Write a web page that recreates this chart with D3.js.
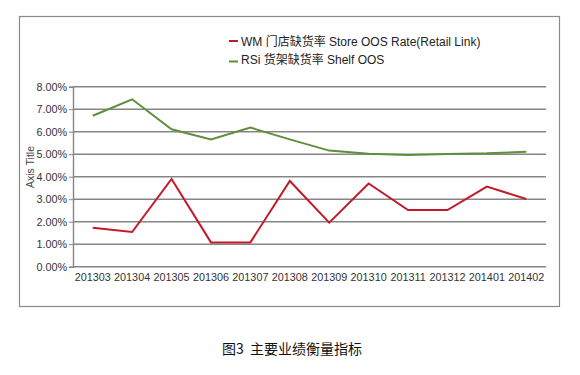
<!DOCTYPE html>
<html>
<head>
<meta charset="utf-8">
<script src="https://cdn.jsdelivr.net/npm/d3@7"></script>
<style>
  html, body { margin: 0; padding: 0; background: #fff; }
  svg { display: block; }
</style>
</head>
<body>
<script>
const categories = ["201303","201304","201305","201306","201307","201308","201309","201310","201311","201312","201401","201402"];
const storeOOS = [1.73, 1.54, 3.90, 1.08, 1.08, 3.81, 1.96, 3.70, 2.52, 2.52, 3.56, 3.01];
const shelfOOS = [6.71, 7.44, 6.11, 5.66, 6.18, 5.66, 5.16, 5.02, 4.96, 5.01, 5.04, 5.11];
const yTicks = [0, 1, 2, 3, 4, 5, 6, 7, 8];
const seriesNames = ["WM 门店缺货率 Store OOS Rate(Retail Link)", "RSi 货架缺货率 Shelf OOS"];
const seriesColors = ["#c21a2a", "#5e8f3c"];
const axisTitle = "Axis Title";
const caption = "图3  主要业绩衡量指标";

(function () {
const W = 580, H = 375;
const svg = d3.select("body").append("svg").attr("width", W).attr("height", H);
const font = "'Liberation Sans', Arial, sans-serif";

// outer frame
svg.append("rect").attr("x", 19.5).attr("y", 16.5).attr("width", 540).attr("height", 290)
  .attr("fill", "none").attr("stroke", "#8a8a8a").attr("stroke-width", 1.2);

const pL = 73, pR = 546, pT = 86.7, pB = 266.7;
const x = d3.scaleBand().domain(categories).range([pL, pR]);
const y = d3.scaleLinear().domain([0, 8]).range([pB, pT]);

// gridlines
svg.append("g").selectAll("line").data(yTicks).join("line")
  .attr("x1", pL).attr("x2", pR)
  .attr("y1", d => y(d)).attr("y2", d => y(d))
  .attr("stroke", "#858585").attr("stroke-width", 1.4);

// y axis
const yAxis = svg.append("g").attr("transform", `translate(${pL},0)`)
  .call(d3.axisLeft(y).tickValues(yTicks).tickSize(4).tickPadding(2).tickFormat(d => d.toFixed(2) + "%"));
yAxis.select(".domain").attr("stroke", "#858585").attr("stroke-width", 1.4);
yAxis.selectAll(".tick line").attr("stroke", "#858585");
yAxis.selectAll("text").attr("font-family", font).attr("font-size", 10.8).attr("fill", "#333");

// x axis
const xAxis = svg.append("g").attr("transform", `translate(0,${pB})`)
  .call(d3.axisBottom(x).tickSize(0).tickPadding(7));
xAxis.select(".domain").remove();
xAxis.selectAll("text").attr("font-family", font).attr("font-size", 10.8).attr("fill", "#333");

// axis title
svg.append("text").attr("transform", "translate(34,167) rotate(-90)")
  .attr("text-anchor", "middle").attr("font-family", font).attr("font-size", 10.5)
  .attr("fill", "#444").text(axisTitle);

// lines
const line = d3.line().x((d, i) => x(categories[i]) + x.bandwidth() / 2).y(d => y(d));
[storeOOS, shelfOOS].forEach((s, k) => {
  svg.append("path").datum(s).attr("d", line).attr("fill", "none")
    .attr("stroke", seriesColors[k]).attr("stroke-width", 2).attr("stroke-linejoin", "miter");
});

// legend
const legY = [41, 59];
seriesNames.forEach((n, k) => {
  const ly = k === 0 ? legY[k] : legY[k] + 2.5;
  svg.append("line").attr("x1", 229).attr("x2", 238).attr("y1", ly).attr("y2", ly)
    .attr("stroke", seriesColors[k]).attr("stroke-width", 2);
  svg.append("text").attr("x", 241).attr("y", legY[k] + 4.5)
    .attr("font-family", "'Liberation Sans', 'Noto Sans CJK SC', sans-serif").attr("font-size", 12)
    .attr("fill", "#222").text(n);
});

// caption
svg.append("text").attr("x", 292).attr("y", 354).attr("text-anchor", "middle")
  .attr("font-family", "'Noto Sans CJK SC', sans-serif").attr("font-size", 14)
  .attr("fill", "#111").style("white-space", "pre").text(caption);
})();
</script>
</body>
</html>
